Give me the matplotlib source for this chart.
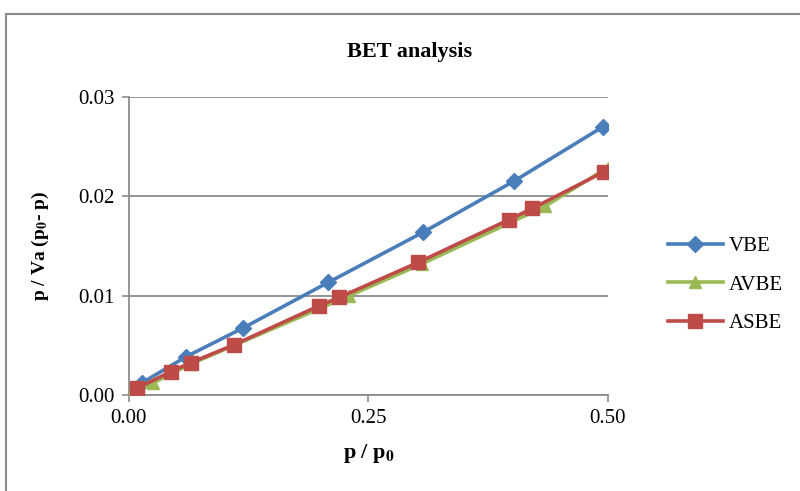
import matplotlib
matplotlib.use('Agg')
import matplotlib.pyplot as plt
from matplotlib.patches import Rectangle

# BET data
vbe_x = [0.014, 0.060, 0.119, 0.208, 0.307, 0.402, 0.495]
vbe_y = [0.00124, 0.00387, 0.00674, 0.01134, 0.01639, 0.02155, 0.02704]

avbe_x = [0.001, 0.025, 0.064, 0.230, 0.3055, 0.434, 0.4995]
avbe_y = [0.0000, 0.0012, 0.0031, 0.0100, 0.0132, 0.0190, 0.0229]

asbe_x = [0.0087, 0.0438, 0.0647, 0.1096, 0.1986, 0.2195, 0.302, 0.397, 0.421, 0.496]
asbe_y = [0.00068, 0.00235, 0.00326, 0.00505, 0.00899, 0.00983, 0.01336, 0.01768, 0.01879, 0.0225]

x_ticks = [0.0, 0.25, 0.5]
y_ticks = [0.0, 0.01, 0.02, 0.03]

plt.rcParams['font.family'] = ['Liberation Serif', 'DejaVu Serif']
plt.rcParams['mathtext.fontset'] = 'stix'

fig = plt.figure(figsize=(8, 4.91), dpi=100)
ax = fig.add_axes([0.161, 0.1955, 0.599, 0.6065])

# outer chart border
fig.patches.append(Rectangle((6 / 800, -0.2), 1.2, 1.2 - 14 / 491, transform=fig.transFigure,
                             fill=False, edgecolor='#8c8c8c', linewidth=1.5))

ax.plot(vbe_x, vbe_y, color='#4A7EBB', lw=2.6, marker='D', ms=8, label='VBE', zorder=3)
ax.plot(avbe_x, avbe_y, color='#98B954', lw=2.6, marker='^', ms=9, label='AVBE', zorder=3)
ax.plot(asbe_x, asbe_y, color='#BE4B48', lw=2.6, marker='s', ms=10, label='ASBE', zorder=4)

ax.set_xlim(0, 0.5)
ax.set_ylim(0, 0.03)
ax.set_xticks(x_ticks)
ax.set_yticks(y_ticks)
ax.set_xticklabels([f'{v:.2f}' for v in x_ticks])
ax.set_yticklabels([f'{v:.2f}' for v in y_ticks])
ax.tick_params(labelsize=15, color='#8c8c8c', length=5, width=1.2, pad=5)
ax.grid(axis='y', color='#8c8c8c', lw=1.3)
ax.set_axisbelow(True)
for s in ['top', 'right']:
    ax.spines[s].set_visible(False)
for s in ['left', 'bottom']:
    ax.spines[s].set_color('#8c8c8c')
    ax.spines[s].set_linewidth(1.3)

fig.text(410 / 800, 1 - 52 / 491, 'BET analysis', fontsize=16, fontweight='bold',
         ha='center', va='center')
ax.set_xlabel(r'p / p$_\mathbf{0}$', fontsize=16, fontweight='bold', labelpad=10)
ax.set_ylabel(r'p / Va (p$_\mathbf{0}$- p)', fontsize=14, fontweight='bold', labelpad=20)

fig.legend(loc='center left', bbox_to_anchor=(0.825, 0.42), frameon=False, fontsize=15,
           handlelength=2.6, labelspacing=0.9, handletextpad=0.3, borderaxespad=0)

fig.savefig('out.png', dpi=100)
